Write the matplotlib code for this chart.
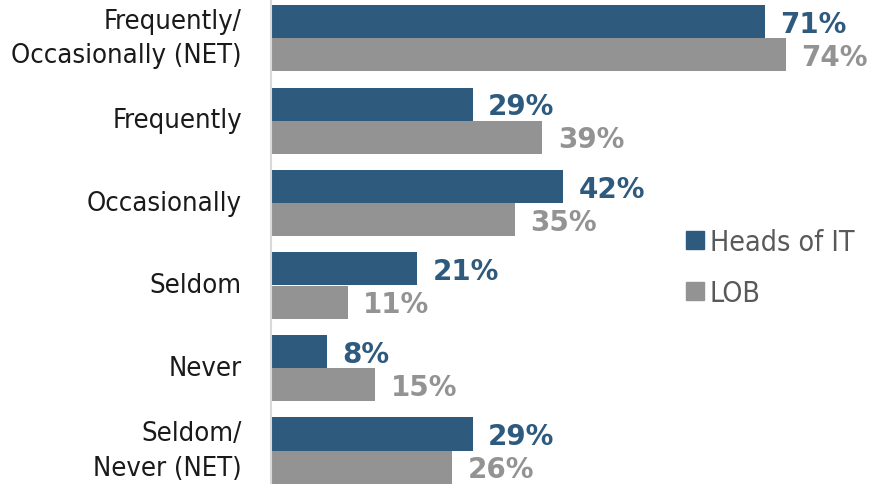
import numpy as np
import matplotlib.pyplot as plt
from matplotlib.patches import Patch

# --- data ---
categories = ["Frequently/\nOccasionally (NET)", "Frequently", "Occasionally",
              "Seldom", "Never", "Seldom/\nNever (NET)"]
heads_it = [71, 29, 42, 21, 8, 29]
lob = [74, 39, 35, 11, 15, 26]
series_names = ["Heads of IT", "LOB"]

# --- style ---
C_IT = "#2E5A7E"
C_LOB = "#939393"
W, H = 871, 485

fig = plt.figure(figsize=(W / 100, H / 100), dpi=100)
ax = fig.add_axes([271 / W, 0, 1 - 271 / W, 1])

y = np.arange(len(categories))
bh = 0.4
ax.barh(y - bh / 2, heads_it, height=bh, color=C_IT)
ax.barh(y + bh / 2, lob, height=bh, color=C_LOB)

# 0..100% spans ~696 px
ax.set_xlim(0, 600 / 6.96)
ax.set_ylim((H - 39) / 82.5, -39 / 82.5)

# value labels
gap = 2.2
for yi, v in zip(y, heads_it):
    ax.text(v + gap, yi - bh / 2 + 0.025, f"{v}%", va="center", ha="left",
            fontsize=20, fontweight="bold", color=C_IT)
for yi, v in zip(y, lob):
    ax.text(v + gap, yi + bh / 2 + 0.025, f"{v}%", va="center", ha="left",
            fontsize=20, fontweight="bold", color=C_LOB)

ax.set_yticks(y)
ax.set_yticklabels(categories, fontsize=19.6, color="#1a1a1a", linespacing=1.42,
                   va="center", fontstretch="condensed")
ax.tick_params(axis="y", length=0, pad=21)
ax.set_xticks([])
for s in ["top", "right", "bottom"]:
    ax.spines[s].set_visible(False)
ax.spines["left"].set_color("#d9d9d9")
ax.spines["left"].set_linewidth(1.5)

handles = [Patch(color=C_IT), Patch(color=C_LOB)]
leg = ax.legend(handles, series_names, loc="upper left",
                bbox_to_anchor=(686 / W, 1 - 229 / H), bbox_transform=fig.transFigure,
                frameon=False, handlelength=0.62, handleheight=0.62,
                prop={"size": 20.5, "stretch": "condensed"},
                handletextpad=0.22, labelspacing=0.8, borderaxespad=0,
                borderpad=0)
for t in leg.get_texts():
    t.set_color("#595959")

fig.savefig("out.png", dpi=100)
